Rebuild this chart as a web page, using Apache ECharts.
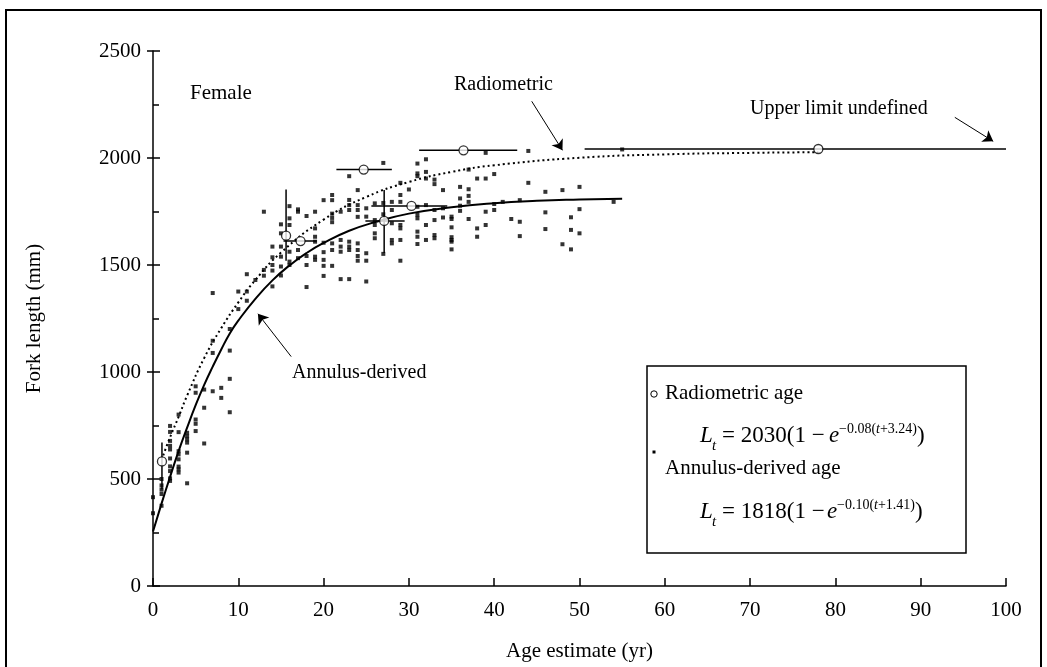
<!DOCTYPE html>
<html>
<head>
<meta charset="utf-8">
<script src="https://cdn.jsdelivr.net/npm/echarts@6/dist/echarts.min.js"></script>
<style>
  html, body { margin: 0; padding: 0; background: #fff; }
  #main { width: 1047px; height: 667px; }
</style>
</head>
<body>
<div id="main"></div>
<script>
  // annulus-derived ages (yr) and the fork lengths (mm) read at each age
  const annulusAges = [0, 1, 2, 3, 4, 5, 6, 7, 8, 9, 10, 11, 12, 13, 14, 15, 16, 17, 18, 19, 20,
    21, 22, 23, 24, 25, 26, 27, 28, 29, 30, 31, 32, 33, 34, 35, 36, 37, 38, 39, 40,
    41, 42, 43, 44, 46, 48, 49, 50, 54, 55]
  const annulusLengths = [
    [415, 340],
    [500, 470, 450, 430, 375],
    [748, 720, 678, 655, 638, 596, 559, 537, 503, 491],
    [801, 719, 630, 615, 592, 558, 545, 530],
    [716, 700, 685, 670, 623, 480],
    [933, 903, 778, 758, 724],
    [918, 833, 666],
    [1369, 1146, 1089, 910],
    [926, 879],
    [1201, 1100, 968, 812],
    [1376, 1294],
    [1457, 1376, 1333],
    [1430],
    [1749, 1477, 1450],
    [1586, 1536, 1500, 1474, 1400],
    [1690, 1648, 1586, 1539, 1493, 1451],
    [1775, 1718, 1687, 1562, 1516, 1500],
    [1760, 1749, 1570, 1532],
    [1729, 1542, 1500, 1397],
    [1749, 1671, 1632, 1609, 1539, 1524],
    [1803, 1604, 1560, 1524, 1496, 1449],
    [1827, 1803, 1740, 1720, 1700, 1601, 1570, 1496],
    [1749, 1617, 1586, 1562, 1434],
    [1915, 1804, 1780, 1757, 1609, 1586, 1570, 1434],
    [1850, 1780, 1757, 1725, 1601, 1570, 1542, 1520],
    [1765, 1726, 1555, 1520, 1423],
    [1788, 1710, 1687, 1648, 1625],
    [1977, 1790, 1737, 1552],
    [1795, 1757, 1695, 1617, 1601],
    [1884, 1827, 1795, 1687, 1671, 1617, 1520],
    [1853],
    [1974, 1928, 1915, 1772, 1734, 1718, 1656, 1632, 1598],
    [1994, 1935, 1904, 1780, 1687, 1617],
    [1899, 1878, 1757, 1710, 1640, 1625],
    [1850, 1765, 1722],
    [1726, 1715, 1676, 1630, 1617, 1609, 1573],
    [1865, 1811, 1777, 1753],
    [1946, 1854, 1823, 1795, 1715],
    [1904, 1671, 1632],
    [2024, 1904, 1749, 1687],
    [1925, 1785, 1757],
    [1795],
    [1715],
    [1803, 1702, 1635],
    [2033, 1884],
    [1842, 1746, 1668],
    [1850, 1597],
    [1723, 1664, 1573],
    [1865, 1761, 1648],
    [1795],
    [2040],
  ]

  // radiometric ages: point, horizontal range, vertical range (null = no bar)
  const radioAge = [1.05, 15.6, 17.3, 27.1, 30.3, 24.7, 36.4, 78.0]
  const radioLength = [582, 1637, 1612, 1706, 1776, 1946, 2036, 2042]
  const radioAgeLow = [null, null, 15.3, 24.9, 25.6, 21.5, 31.2, 50.6]
  const radioAgeHigh = [null, null, 19.2, 29.5, 34.5, 28.0, 42.7, 100]
  const radioLenLow = [452, 1520, null, 1556, null, null, null, null]
  const radioLenHigh = [670, 1853, null, 1850, null, null, null, null]

  // growth curves
  const annCurveAge = [0, 1, 2, 3, 4, 5, 6, 7, 8, 9, 10, 12, 14, 16, 18, 20, 23, 26, 30, 35, 40, 45, 50, 55]
  const annCurveLen = [255, 385, 510, 630, 740, 845, 940, 1025, 1105, 1180, 1240, 1342, 1428, 1498, 1556, 1603, 1660, 1700, 1740, 1770, 1789, 1800, 1806, 1810]
  const radCurveAge = [1.2, 2, 3, 4, 6, 8, 10, 12, 15, 20, 25, 30, 35, 40, 50, 60, 70, 78]
  const radCurveLen = [610, 695, 790, 890, 1065, 1205, 1325, 1430, 1558, 1712, 1818, 1888, 1935, 1966, 2001, 2017, 2024, 2027]

  // annotation arrows [fromAge, fromLen, toAge, toLen]
  const arrows = [
    [44.4, 2265, 48.0, 2036],
    [16.2, 1072, 12.3, 1272],
    [94.0, 2190, 98.5, 2078],
  ]

  const xTicks = { min: 0, max: 100, interval: 10 }
  const yTicks = { min: 0, max: 2500, interval: 500 }

  const font = 'Liberation Serif'

  const annulusData = []
  annulusAges.forEach((age, i) => {
    annulusLengths[i].forEach((len) => annulusData.push([age, len]))
  })
  const radioData = radioAge.map((a, i) => [a, radioLength[i]])
  const barData = radioAge.map((a, i) => [
    a, radioLength[i],
    radioAgeLow[i] == null ? NaN : radioAgeLow[i],
    radioAgeHigh[i] == null ? NaN : radioAgeHigh[i],
    radioLenLow[i] == null ? NaN : radioLenLow[i],
    radioLenHigh[i] == null ? NaN : radioLenHigh[i],
  ])

  const chart = echarts.init(document.getElementById('main'), null, { renderer: 'canvas' })

  // text helper, positioned by its left edge and vertical middle
  const label = (text, x, y, extra) => ({
    type: 'text',
    x: x,
    y: y,
    z: 11,
    style: Object.assign({
      text: text,
      fontFamily: font,
      fontSize: 21,
      fill: '#000',
      align: 'left',
      verticalAlign: 'middle',
    }, extra || {}),
  })

  // one formula line: L_t = N(1 − e^{sup})
  const formula = (num, sup, y, ex) => [
    label('L', 700, y, { fontSize: 23, fontStyle: 'italic' }),
    label('t', 712, y + 10, { fontSize: 15, fontStyle: 'italic' }),
    label('= ' + num + '(1 −', 722, y, { fontSize: 23 }),
    label('e', ex, y, { fontSize: 23, fontStyle: 'italic' }),
    label(sup, ex + 10, y - 7, { fontSize: 14, rich: { i: { fontFamily: font, fontSize: 14, fontStyle: 'italic', fill: '#000' } } }),
    label(')', ex + 88, y, { fontSize: 23 }),
  ]

  const option = {
    animation: false,
    backgroundColor: '#fff',
    grid: { left: 153, right: 41, top: 51, bottom: 80 },
    xAxis: {
      type: 'value',
      min: xTicks.min,
      max: xTicks.max,
      interval: xTicks.interval,
      name: 'Age estimate (yr)',
      nameLocation: 'middle',
      nameGap: 55,
      nameTextStyle: { fontFamily: font, fontSize: 21, color: '#000' },
      axisLine: { show: true, lineStyle: { color: '#000', width: 1.5 } },
      axisTick: { show: true, inside: true, length: 8, lineStyle: { color: '#000', width: 1.5 } },
      axisLabel: { fontFamily: font, fontSize: 21, color: '#000', margin: 14 },
      splitLine: { show: false },
    },
    yAxis: [
      {
        type: 'value',
        min: yTicks.min,
        max: yTicks.max,
        interval: yTicks.interval,
        name: 'Fork length (mm)',
        nameLocation: 'middle',
        nameGap: 108,
        nameTextStyle: { fontFamily: font, fontSize: 21, color: '#000' },
        axisLine: { show: true, lineStyle: { color: '#000', width: 1.5 } },
        axisTick: { show: true, inside: false, length: 6, lineStyle: { color: '#000', width: 1.5 } },
        axisLabel: { fontFamily: font, fontSize: 21, color: '#000', margin: 12, formatter: (v) => String(v) },
        splitLine: { show: false },
      },
      {
        type: 'value',
        position: 'left',
        min: yTicks.min,
        max: yTicks.max,
        interval: yTicks.interval,
        axisLine: { show: false },
        axisTick: { show: true, inside: true, length: 7, lineStyle: { color: '#000', width: 1.5 } },
        minorTick: { show: true, splitNumber: 2, length: 6, lineStyle: { color: '#000', width: 1.5 } },
        axisLabel: { show: false },
        splitLine: { show: false },
      },
    ],
    series: [
      {
        name: 'Annulus-derived age',
        type: 'scatter',
        symbol: 'rect',
        symbolSize: 4,
        itemStyle: { color: '#000' },
        data: annulusData,
        z: 3,
        markLine: {
          silent: true,
          symbol: ['none', 'arrow'],
          symbolSize: 10,
          label: { show: false },
          lineStyle: { color: '#000', width: 1, type: 'solid' },
          data: arrows.map((a) => [{ coord: [a[0], a[1]] }, { coord: [a[2], a[3]] }]),
        },
      },
      {
        name: 'Annulus curve',
        type: 'line',
        smooth: true,
        symbol: 'none',
        lineStyle: { color: '#000', width: 2 },
        data: annCurveAge.map((a, i) => [a, annCurveLen[i]]),
        z: 4,
      },
      {
        name: 'Radiometric curve',
        type: 'line',
        smooth: true,
        symbol: 'none',
        lineStyle: { color: '#000', width: 2, type: [2, 3] },
        data: radCurveAge.map((a, i) => [a, radCurveLen[i]]),
        z: 4,
      },
      {
        name: 'Error bars',
        type: 'custom',
        data: barData,
        encode: { x: 0, y: 1 },
        z: 5,
        renderItem: (params, api) => {
          const x = api.value(0)
          const y = api.value(1)
          const xl = api.value(2)
          const xh = api.value(3)
          const yl = api.value(4)
          const yh = api.value(5)
          const children = []
          const st = { stroke: '#000', lineWidth: 1.5 }
          if (!isNaN(xl) && !isNaN(xh)) {
            const p1 = api.coord([xl, y])
            const p2 = api.coord([xh, y])
            children.push({ type: 'line', shape: { x1: p1[0], y1: p1[1], x2: p2[0], y2: p2[1] }, style: st })
          }
          if (!isNaN(yl) && !isNaN(yh)) {
            const p1 = api.coord([x, yl])
            const p2 = api.coord([x, yh])
            children.push({ type: 'line', shape: { x1: p1[0], y1: p1[1], x2: p2[0], y2: p2[1] }, style: st })
          }
          return { type: 'group', children: children }
        },
      },
      {
        name: 'Radiometric age',
        type: 'scatter',
        symbol: 'circle',
        symbolSize: 9,
        itemStyle: { color: '#fff', borderColor: '#000', borderWidth: 1.3 },
        data: radioData,
        z: 6,
      },
    ],
    graphic: [
      // outer frame
      { type: 'rect', shape: { x: 6, y: 10, width: 1035, height: 680 }, style: { fill: 'none', stroke: '#000', lineWidth: 2 }, silent: true },
      label('Female', 190, 93),
      label('Radiometric', 454, 85, { fontSize: 20 }),
      label('Upper limit undefined', 750, 109, { fontSize: 20 }),
      label('Annulus-derived', 292, 373, { fontSize: 20 }),
      // legend box
      { type: 'rect', z: 10, shape: { x: 647, y: 366, width: 319, height: 187 }, style: { fill: '#fff', stroke: '#000', lineWidth: 1.5 } },
      { type: 'circle', z: 11, shape: { cx: 654, cy: 394, r: 3.2 }, style: { fill: '#fff', stroke: '#000', lineWidth: 1 } },
      label('Radiometric age', 665, 393),
      ...formula('2030', '−0.08({i|t}+3.24)', 436, 829),
      { type: 'rect', z: 11, shape: { x: 652.5, y: 450.5, width: 3, height: 3 }, style: { fill: '#000' } },
      label('Annulus-derived age', 665, 468),
      ...formula('1818', '−0.10({i|t}+1.41)', 512, 827),
    ],
  }

  option && chart.setOption(option)
</script>
</body>
</html>
